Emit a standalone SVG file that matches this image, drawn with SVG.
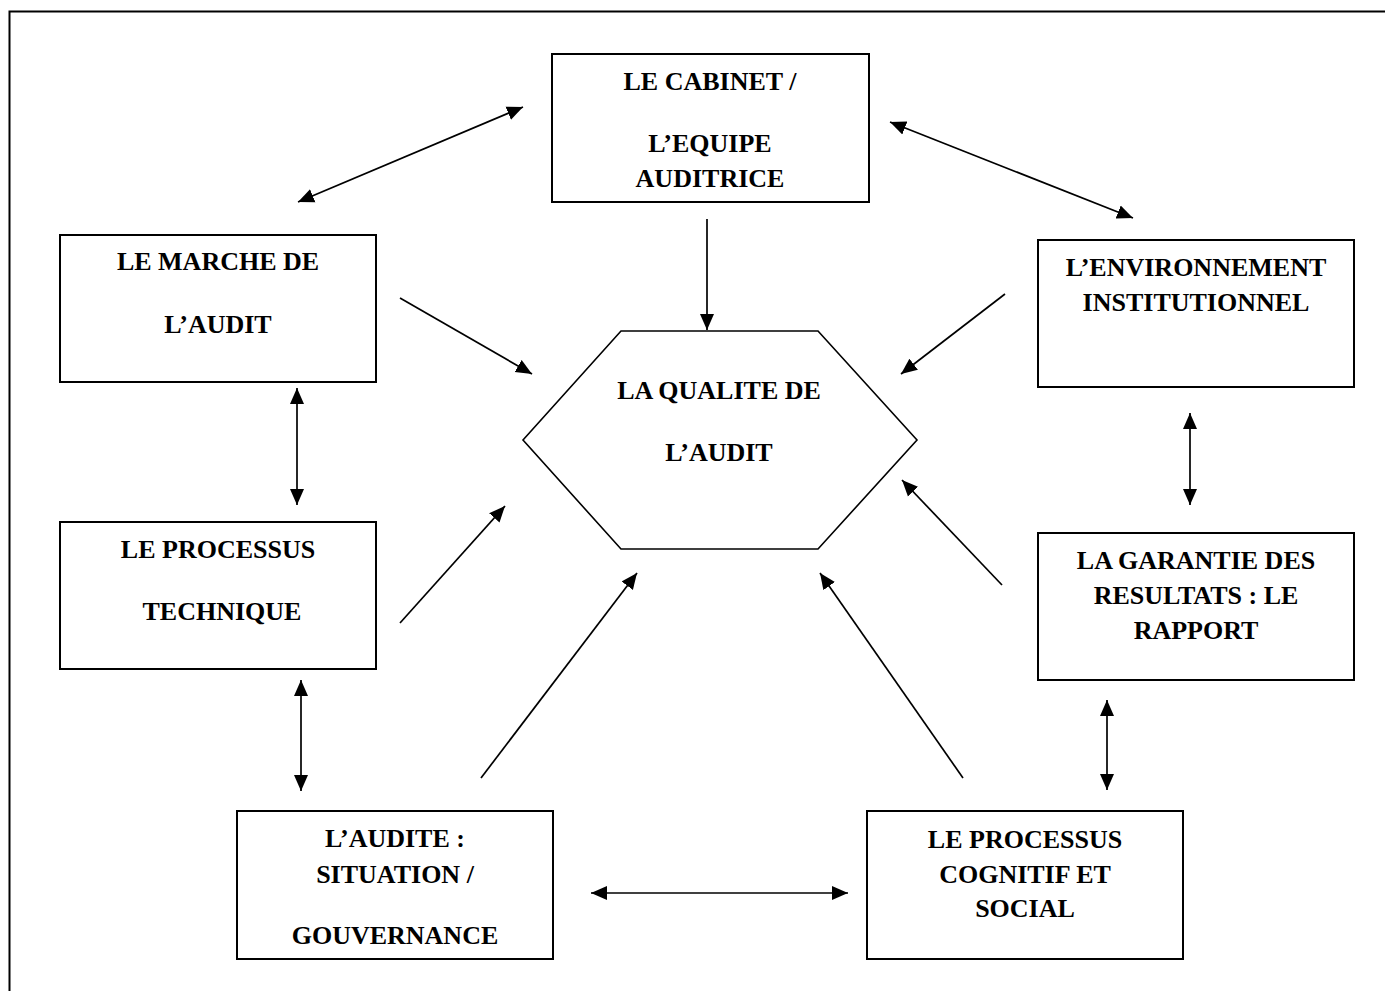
<svg xmlns="http://www.w3.org/2000/svg" width="1385" height="991" viewBox="0 0 1385 991">
<style>
.box{fill:#fff;stroke:#000;stroke-width:2}
.hex{fill:#fff;stroke:#000;stroke-width:1.6}
.t{font-family:"Liberation Serif","Times New Roman",serif;font-weight:bold;font-size:26px;fill:#000;text-anchor:middle}
.c{stroke:#000;stroke-width:1.7;fill:none}
.one{marker-end:url(#ah)}
.two{marker-start:url(#ah);marker-end:url(#ah)}
</style>
<defs>
<marker id="ah" markerUnits="userSpaceOnUse" markerWidth="17" markerHeight="15" refX="16" refY="7" orient="auto-start-reverse" viewBox="0 0 17 14">
<path d="M0,0 L16,7 L0,14 z" fill="#000"/>
</marker>
</defs>
<rect x="0" y="0" width="1385" height="991" fill="#fff"/>
<rect x="9.5" y="11.5" width="1400" height="1000" fill="none" stroke="#000" stroke-width="2"/>
<g id="connectors">
<line class="c two" x1="298" y1="202" x2="523" y2="107"/>
<line class="c two" x1="890" y1="122" x2="1133" y2="218"/>
<line class="c one" x1="707" y1="219" x2="707" y2="330"/>
<line class="c one" x1="400" y1="298" x2="532" y2="374"/>
<line class="c one" x1="1005" y1="294" x2="901" y2="374"/>
<line class="c two" x1="297" y1="388" x2="297" y2="505"/>
<line class="c two" x1="1190" y1="413" x2="1190" y2="505"/>
<line class="c one" x1="400" y1="623" x2="505" y2="506"/>
<line class="c one" x1="1002" y1="585" x2="902" y2="480"/>
<line class="c two" x1="301" y1="680" x2="301" y2="791"/>
<line class="c two" x1="1107" y1="700" x2="1107" y2="790"/>
<line class="c one" x1="481" y1="778" x2="637" y2="573"/>
<line class="c one" x1="963" y1="778" x2="820" y2="573"/>
<line class="c two" x1="591" y1="893" x2="848" y2="893"/>
</g>
<g id="cabinet">
<rect class="box" x="552" y="54" width="317" height="148"/>
<text class="t" x="710" y="90">LE CABINET /</text>
<text class="t" x="710" y="152">L’EQUIPE</text>
<text class="t" x="710" y="187">AUDITRICE</text>
</g>
<g id="marche">
<rect class="box" x="60" y="235" width="316" height="147"/>
<text class="t" x="218" y="270">LE MARCHE DE</text>
<text class="t" x="218" y="333">L’AUDIT</text>
</g>
<g id="environnement">
<rect class="box" x="1038" y="240" width="316" height="147"/>
<text class="t" x="1196" y="276">L’ENVIRONNEMENT</text>
<text class="t" x="1196" y="311">INSTITUTIONNEL</text>
</g>
<g id="qualite">
<polygon class="hex" points="621,331 818,331 917,440 818,549 621,549 523,440"/>
<text class="t" x="719" y="399">LA QUALITE DE</text>
<text class="t" x="719" y="461">L’AUDIT</text>
</g>
<g id="technique">
<rect class="box" x="60" y="522" width="316" height="147"/>
<text class="t" x="218" y="558">LE PROCESSUS</text>
<text class="t" x="222" y="620">TECHNIQUE</text>
</g>
<g id="garantie">
<rect class="box" x="1038" y="533" width="316" height="147"/>
<text class="t" x="1196" y="569">LA GARANTIE DES</text>
<text class="t" x="1196" y="604">RESULTATS : LE</text>
<text class="t" x="1196" y="639">RAPPORT</text>
</g>
<g id="audite">
<rect class="box" x="237" y="811" width="316" height="148"/>
<text class="t" x="395" y="847">L’AUDITE :</text>
<text class="t" x="395" y="883">SITUATION /</text>
<text class="t" x="395" y="944">GOUVERNANCE</text>
</g>
<g id="cognitif">
<rect class="box" x="867" y="811" width="316" height="148"/>
<text class="t" x="1025" y="848">LE PROCESSUS</text>
<text class="t" x="1025" y="883">COGNITIF ET</text>
<text class="t" x="1025" y="917">SOCIAL</text>
</g>
</svg>
